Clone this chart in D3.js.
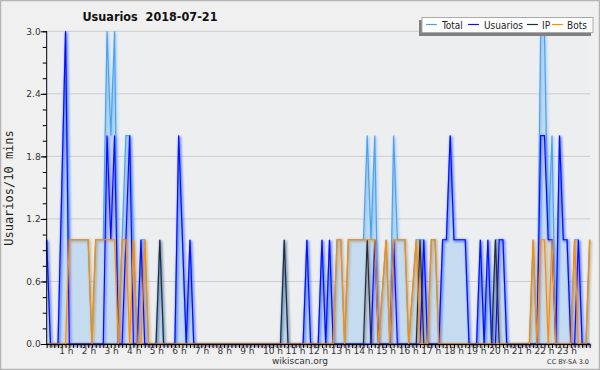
<!DOCTYPE html>
<html><head><meta charset="utf-8">
<script src="https://cdn.jsdelivr.net/npm/d3@7"></script>
<style>body{margin:0;background:#fff}svg{display:block}</style>
</head><body><svg id="c" width="600" height="370"></svg>
<script>
// 10-minute slots, 00:00 .. 24:00
const total = [
 1,0,0,0,1.5,3,1,1,1,1,1,1,
 0,1,1,1,3,2,3,0,1,2,2,1,
 0,1,1,0,0,0,1,0,0,0,0,2,
 1,0,1,0,0,0,0,0,0,0,0,0,
 0,0,0,0,0,0,0,0,0,0,0,0,
 0,0,0,1,0,0,0,0,0,1,0,0,
 0,1,0,1,0,1,1,0,1,1,1,1,
 1,2,1,2,0,0.5,1,0,2,1,1,1,
 0,0.5,1,1,1,0,1,1,0,1,1,2,
 1,1,1,1,0,0,0,1,0,1,0,1,
 1,1,0,0,0,0,0,0,0,1,0,3,
 3,1,2,0,2,1,1,0,1,1,0,0,
 1];
const usuarios = [
 1,0,0,0,1.5,3,0,0,0,0,0,0,
 0,0,0,0,2,1,2,0,0,1,2,0,
 0,1,0,0,0,0,0,0,0,0,0,2,
 1,0,1,0,0,0,0,0,0,0,0,0,
 0,0,0,0,0,0,0,0,0,0,0,0,
 0,0,0,0,0,0,0,0,0,1,0,0,
 0,1,0,1,0,0,0,0,0,0,0,0,
 0,0,0,1,0,0,0,0,1,0,0,0,
 0,0,0,0,1,0,0,0,0,1,1,2,
 1,1,1,1,0,0,0,1,0,1,0,0,
 1,1,0,0,0,0,0,0,0,0,0,2,
 2,1,1,0,2,1,1,0,0,1,0,0,
 0];
const ip = [
 0,0,0,0,0,0,0,0,0,0,0,0,
 0,0,0,0,0,0,0,0,0,0,0,0,
 0,0,0,0,0,0,1,0,0,0,0,0,
 0,0,0,0,0,0,0,0,0,0,0,0,
 0,0,0,0,0,0,0,0,0,0,0,0,
 0,0,0,1,0,0,0,0,0,0,0,0,
 0,0,0,0,0,0,0,0,0,0,0,0,
 0,1,0,0,0,0,0,0,0,0,0,0,
 0,0,0,1,0,0,0,0,0,0,0,0,
 0,0,0,0,0,0,0,0,0,0,0,1,
 0,0,0,0,0,0,0,0,0,0,0,0,
 0,0,0,0,0,0,0,0,0,0,0,0,
 0];
const bots = [
 0,0,0,0,0,0,1,1,1,1,1,1,
 0,1,1,1,1,1,1,0,1,1,0,1,
 0,0,1,0,0,0,0,0,0,0,0,0,
 0,0,0,0,0,0,0,0,0,0,0,0,
 0,0,0,0,0,0,0,0,0,0,0,0,
 0,0,0,0,0,0,0,0,0,0,0,0,
 0,0,0,0,0,1,1,0,1,1,1,1,
 1,1,1,1,0,0.5,1,0,1,1,1,1,
 0,0.5,1,0,0,0,1,1,0,0,0,0,
 0,0,0,0,0,0,0,0,0,0,0,0,
 0,0,0,0,0,0,0,0,0,1,0,1,
 1,0,1,0,0,0,0,0,1,0,0,0,
 1];
const hourLabels = ["1 h","2 h","3 h","4 h","5 h","6 h","7 h","8 h","9 h","10 h","11 h","12 h",
  "13 h","14 h","15 h","16 h","17 h","18 h","19 h","20 h","21 h","22 h","23 h"];
const yTicks = [0,0.6,1.2,1.8,2.4,3.0];
const seriesNames = ["Total","Usuarios","IP","Bots"];
const seriesColors = ["#4aa2f0","#0c0cff","#2a2a35","#ff8c00"];

const svg = d3.select("#c");
const W = 600, H = 370;
const L = 46.7, R = 589.7, T = 31.3, B = 344;
const font = "'DejaVu Sans', sans-serif";

svg.append("rect").attr("x",0.5).attr("y",0.5).attr("width",W-1).attr("height",H-1)
  .attr("fill","#f0f0f0").attr("stroke","#b4b4b4").attr("stroke-width",1.5);
svg.append("rect").attr("x",L).attr("y",T).attr("width",R-L).attr("height",B-T).attr("fill","#edeef0");

const x = d3.scaleLinear().domain([0,144]).range([L,R]);
const y = d3.scaleLinear().domain([0,3]).range([B,T]);

// grid
svg.append("g").selectAll("line").data(yTicks.filter(d=>d>0)).join("line")
  .attr("x1",L).attr("x2",590).attr("y1",d=>y(d)).attr("y2",d=>y(d))
  .attr("stroke","#cccccc").attr("stroke-width",1);

const defs = svg.append("defs");
defs.append("filter").attr("id","blur").attr("x","-20%").attr("y","-20%").attr("width","140%").attr("height","140%")
  .append("feGaussianBlur").attr("stdDeviation",1.2);

const idx = d3.range(145);
const area = d3.area().x(i=>x(i)).y0(B).y1(i=>y(total[i]));
svg.append("path").attr("d",area(idx)).attr("fill","#c5dcf0");

const line = arr => d3.line().x(i=>x(i)).y(i=>y(arr[i]))(idx);
const data = [total, usuarios, ip, bots];
data.forEach((arr,k)=>{
  svg.append("path").attr("d",line(arr)).attr("fill","none")
    .attr("stroke",seriesColors[k]).attr("stroke-opacity",0.35).attr("stroke-width",2.5)
    .attr("filter","url(#blur)").attr("transform","translate(1,1)");
});
data.forEach((arr,k)=>{
  svg.append("path").attr("d",line(arr)).attr("fill","none")
    .attr("stroke",seriesColors[k]).attr("stroke-width",1.2).attr("stroke-linejoin","miter");
});

// axes
const yAxis = d3.axisLeft(y).tickValues(d3.range(0,3.001,0.15)).tickSize(4).tickFormat("");
const yg = svg.append("g").attr("transform",`translate(${L},0)`).call(yAxis);
yg.select(".domain").remove();
yg.selectAll(".tick line").attr("stroke","#000");
const yMajor = d3.axisLeft(y).tickValues(yTicks).tickSize(6).tickFormat(d3.format(".1f"));
const ym = svg.append("g").attr("transform",`translate(${L},0)`).call(yMajor);
ym.select(".domain").remove();
ym.selectAll(".tick line").attr("stroke","#000");
ym.selectAll(".tick text").attr("font-family",font).attr("font-size",9).attr("fill","#333").attr("x",-6);

svg.append("line").attr("x1",L).attr("x2",L).attr("y1",T).attr("y2",B).attr("stroke","#000");
svg.append("line").attr("x1",L).attr("x2",590).attr("y1",B+0.5).attr("y2",B+0.5).attr("stroke","#000");

const xAxis = d3.axisBottom(x).tickValues(d3.range(0,145,1)).tickSize(4).tickFormat("");
const xg = svg.append("g").attr("transform",`translate(0,${B})`).call(xAxis);
xg.select(".domain").remove();
xg.selectAll(".tick line").attr("stroke","#000");

svg.append("g").selectAll("text").data(hourLabels).join("text")
  .attr("x",(d,i)=>x((i+1)*6) - (d.length<4?3:0)).attr("y",353.5).attr("text-anchor","middle")
  .attr("font-family",font).attr("font-size",9).attr("fill","#333").text(d=>d);

// titles
svg.append("text").attr("x",150).attr("y",21).attr("text-anchor","middle")
  .attr("font-family","'DejaVu Sans Condensed', 'DejaVu Sans', sans-serif").attr("font-weight","bold")
  .attr("font-size",12.5).attr("fill","#111").text("Usuarios\u00a0\u00a02018-07-21");
svg.append("text").attr("transform","translate(13,188) rotate(-90)").attr("text-anchor","middle")
  .attr("font-family","'DejaVu Sans Mono', monospace").attr("font-size",12).attr("fill","#222")
  .text("Usuarios/10 mins");
svg.append("text").attr("x",300).attr("y",364).attr("text-anchor","middle")
  .attr("font-family",font).attr("font-size",9).attr("fill","#333").text("wikiscan.org");
svg.append("text").attr("x",589).attr("y",364).attr("text-anchor","end")
  .attr("font-family",font).attr("font-size",6.5).attr("fill","#333").text("CC BY-SA 3.0");

// legend
const lg = svg.append("g");
lg.append("rect").attr("x",419).attr("y",20).attr("width",172).attr("height",16).attr("fill","#808080");
lg.append("rect").attr("x",422).attr("y",17.5).attr("width",171).attr("height",15).attr("fill","#fff").attr("stroke","#aaa");
const legX = [426,468,527,552];
const txtX = [442,484,542,567];
seriesNames.forEach((n,k)=>{
  lg.append("line").attr("x1",legX[k]).attr("x2",legX[k]+11).attr("y1",24.5).attr("y2",24.5)
    .attr("stroke",seriesColors[k]).attr("stroke-width",1.2);
  lg.append("text").attr("x",txtX[k]).attr("y",28.5).attr("font-family","'DejaVu Sans Condensed','DejaVu Sans',sans-serif")
    .attr("font-size",10).attr("fill","#222").text(n);
});
</script></body></html>
